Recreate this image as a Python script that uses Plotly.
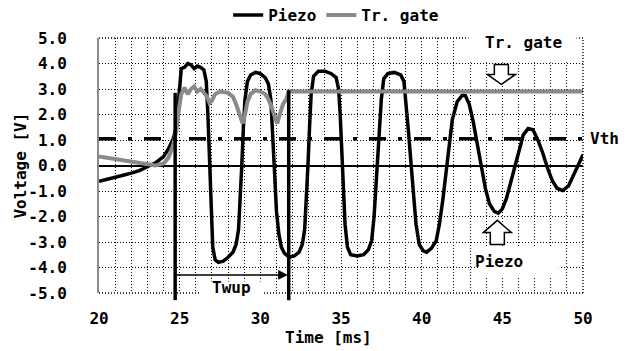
import plotly.graph_objects as go

# ---------------- data ----------------
piezo_t = [20.0, 20.5, 21.0, 21.5, 22.0, 22.5, 23.0, 23.5, 24.0, 24.3, 24.6, 24.8, 24.9, 25.0,
           25.1, 25.3, 25.5, 25.7, 25.9, 26.1, 26.3, 26.5, 26.65, 26.75, 26.85, 26.95, 27.05,
           27.2, 27.4, 27.7, 28.0, 28.3, 28.5, 28.65, 28.75, 28.85, 28.95, 29.05, 29.2, 29.4,
           29.7, 30.0, 30.3, 30.5, 30.65, 30.8, 30.9, 31.0, 31.15, 31.3, 31.5, 31.8, 32.1, 32.4,
           32.6, 32.75, 32.85, 32.95, 33.05, 33.15, 33.3, 33.6, 34.0, 34.4, 34.7, 34.85, 34.95,
           35.05, 35.15, 35.25, 35.4, 35.6, 36.0, 36.4, 36.7, 36.9, 37.05, 37.15, 37.25, 37.35,
           37.5, 37.65, 37.9, 38.3, 38.7, 38.9, 39.05, 39.2, 39.35, 39.5, 39.65, 39.85, 40.1,
           40.3, 40.6, 40.9, 41.1, 41.3, 41.5, 41.7, 41.9, 42.2, 42.5, 42.7, 42.95, 43.2, 43.45,
           43.7, 43.95, 44.2, 44.5, 44.75, 45.0, 45.25, 45.5, 45.75, 46.0, 46.3, 46.6, 46.9,
           47.2, 47.5, 47.8, 48.1, 48.4, 48.75, 49.1, 49.4, 49.7, 50.0]
piezo_v = [-0.62, -0.55, -0.45, -0.38, -0.30, -0.20, -0.05, 0.10, 0.35, 0.65, 1.05, 1.5, 2.3, 3.3,
           3.8, 3.85, 4.0, 3.95, 3.8, 3.9, 3.85, 3.75, 3.3, 2.0, 0.0, -2.0, -3.2,
           -3.7, -3.8, -3.75, -3.6, -3.4, -3.1, -2.5, -1.5, 0.0, 1.5, 2.6, 3.3, 3.55,
           3.65, 3.6, 3.45, 3.2, 2.6, 1.0, -0.5, -1.8, -2.7, -3.2, -3.45, -3.6, -3.55, -3.4,
           -3.1, -2.5, -1.5, 0.0, 1.5, 2.8, 3.5, 3.7, 3.7, 3.6, 3.45, 3.0, 2.0,
           0.5, -1.0, -2.3, -3.2, -3.5, -3.55, -3.5, -3.3, -2.95, -2.0, -1.0, 0.0, 1.2,
           2.6, 3.4, 3.6, 3.65, 3.55, 3.3, 2.4, 1.2, 0.0, -1.2, -2.3, -3.1, -3.35,
           -3.4, -3.25, -2.95, -2.3, -1.4, -0.3, 0.9, 1.8, 2.5, 2.75, 2.75, 2.4, 1.7, 0.8,
           -0.1, -0.9, -1.5, -1.8, -1.87, -1.7, -1.3, -0.7, 0.0, 0.6, 1.2, 1.45, 1.4,
           1.0, 0.5, -0.1, -0.6, -0.9, -0.98, -0.8, -0.4, 0.05, 0.42]

gate_t = [20.0, 20.5, 21.0, 21.5, 22.0, 22.5, 23.0, 23.5, 24.0, 24.3, 24.6, 24.8, 24.95, 25.1,
          25.3, 25.5, 25.7, 25.9, 26.1, 26.3, 26.5, 26.7, 26.85, 27.0, 27.2, 27.5, 28.0, 28.3,
          28.5, 28.7, 28.9, 29.05, 29.2, 29.4, 29.7, 30.0, 30.3, 30.5, 30.7, 30.9, 31.05, 31.2,
          31.4, 31.6, 31.75, 32.0, 35.0, 40.0, 45.0, 50.0]
gate_v = [0.35, 0.30, 0.25, 0.22, 0.17, 0.10, 0.04, 0.0, 0.08, 0.3, 0.8, 1.4, 2.2, 2.8,
          3.05, 2.8, 3.0, 3.1, 2.9, 3.0, 2.85, 2.7, 2.45, 2.55, 2.8, 2.9, 2.85, 2.7,
          2.4, 2.0, 1.65, 2.0, 2.5, 2.8, 2.95, 2.9, 2.8, 2.6, 2.3, 1.9, 1.65, 2.0,
          2.4, 2.6, 2.9, 2.9, 2.9, 2.9, 2.9, 2.9]

vth_level = 1.05
twup_start, twup_end = 24.72, 31.76

x_ticks = [20, 25, 30, 35, 40, 45, 50]
y_ticks = [5, 4, 3, 2, 1, 0, -1, -2, -3, -4, -5]
y_ticklabels = ["5.0", "4.0", "3.0", "2.0", "1.0", "0.0", "-1.0", "-2.0", "-3.0", "-4.0", "-5.0"]

X_RANGE = [20, 50]
Y_RANGE = [-5, 5]

FONT = "DejaVu Sans Mono"
GRID_DASH = "1px,2px"
GRID_W = 1.4


def xp(v):
    return (v - X_RANGE[0]) / (X_RANGE[1] - X_RANGE[0])


def yp(v):
    return (v - Y_RANGE[0]) / (Y_RANGE[1] - Y_RANGE[0])


fig = go.Figure()
fig.add_trace(go.Scatter(x=piezo_t, y=piezo_v, mode="lines", name="Piezo",
                         line=dict(color="black", width=3.5)))
fig.add_trace(go.Scatter(x=gate_t, y=gate_v, mode="lines", name="Tr. gate",
                         line=dict(color="#8a8a8a", width=4)))
# Vth dash-dot line
fig.add_trace(go.Scatter(x=X_RANGE, y=[vth_level, vth_level], mode="lines", showlegend=False,
                         line=dict(color="black", width=3.5, dash="17px,12px,4px,12px")))

shapes = []
# dotted plot border (top, right, bottom)
for (x0, y0, x1, y1) in [(0, 1, 1, 1), (1, 0, 1, 1), (0, 0, 1, 0)]:
    shapes.append(dict(type="line", xref="paper", yref="paper", x0=x0, y0=y0, x1=x1, y1=y1,
                       line=dict(color="black", width=GRID_W, dash=GRID_DASH)))
# white label boxes
for (xa, xb, ya, yb) in [(42.9, 49.6, 4.05, 5.4), (43.5, 48.5, -4.35, -3.2), (26.2, 30.2, -5.15, -4.55)]:
    shapes.append(dict(type="rect", xref="paper", yref="paper", x0=xp(xa), x1=xp(xb),
                       y0=yp(ya), y1=yp(yb), fillcolor="white", line=dict(width=0)))
# Twup marker lines
for (xv, top) in [(twup_start, 2.85), (twup_end, 2.95)]:
    shapes.append(dict(type="line", xref="paper", yref="paper", x0=xp(xv), x1=xp(xv),
                       y0=-0.028, y1=yp(top), line=dict(color="black", width=3.5)))


def block_arrow(cx, tip, head_base, tail, hw=0.87, sw=0.435):
    pts = [(cx - sw, tail), (cx + sw, tail), (cx + sw, head_base), (cx + hw, head_base),
           (cx, tip), (cx - hw, head_base), (cx - sw, head_base)]
    path = "M " + " L ".join(f"{xp(a):.5f},{yp(b):.5f}" for a, b in pts) + " Z"
    return dict(type="path", xref="paper", yref="paper", path=path, fillcolor="white",
                line=dict(color="black", width=1.5))


shapes.append(block_arrow(44.94, 3.18, 3.57, 3.96))
shapes.append(block_arrow(44.69, -2.15, -2.63, -3.1))

tfont = dict(family=FONT, size=16, color="black", weight="bold")


def label(text, x, y, angle=0):
    return dict(text=text, xref="paper", yref="paper", x=x, y=y, xanchor="center",
                yanchor="middle", showarrow=False, font=tfont, textangle=angle)


annotations = [
    label("Tr. gate", xp(46.3), yp(4.82)),
    label("Piezo", xp(44.8), yp(-3.76)),
    label("Twup", xp(28.2), yp(-4.78)),
    label("Vth", 1.044, yp(1.07)),
    label("Voltage [V]", -0.163, 0.5, -90),
    label("Time [ms]", 0.475, -0.174),
    dict(text="", xref="x", yref="y", axref="x", ayref="y", x=twup_end - 0.05, y=-4.29,
         ax=twup_start, ay=-4.29, showarrow=True, arrowhead=2, arrowsize=1.3, arrowwidth=1.5,
         arrowcolor="black"),
]

fig.update_layout(
    width=626, height=351, autosize=False,
    margin=dict(l=99, r=43, t=38, b=58, autoexpand=False),
    paper_bgcolor="white", plot_bgcolor="white",
    font=dict(family=FONT, size=16, color="black", weight="bold"),
    shapes=shapes, annotations=annotations,
    legend=dict(orientation="h", x=0.49, xanchor="center", y=1.09, yanchor="middle",
                font=dict(family=FONT, size=16, color="black", weight="bold"),
                bgcolor="rgba(0,0,0,0)", itemwidth=30, tracegroupgap=0),
    xaxis=dict(range=X_RANGE, tickvals=x_ticks, showgrid=True, gridcolor="black", gridwidth=GRID_W,
               griddash=GRID_DASH, zeroline=False, showline=False, ticks="", automargin=False,
               minor=dict(dtick=1, tick0=20, showgrid=True, gridcolor="black", gridwidth=GRID_W,
                          griddash=GRID_DASH),
               tickfont=dict(family=FONT, size=16, weight="bold"), ticklabelstandoff=14),
    yaxis=dict(range=Y_RANGE, tickvals=y_ticks, ticktext=y_ticklabels, showgrid=True,
               gridcolor="black", gridwidth=GRID_W, griddash=GRID_DASH, automargin=False,
               zeroline=True, zerolinecolor="black", zerolinewidth=2,
               showline=True, linecolor="#8a8a8a", linewidth=2, ticks="",
               tickfont=dict(family=FONT, size=16, weight="bold"), ticklabelstandoff=27),
)

fig.write_html("out.html")
